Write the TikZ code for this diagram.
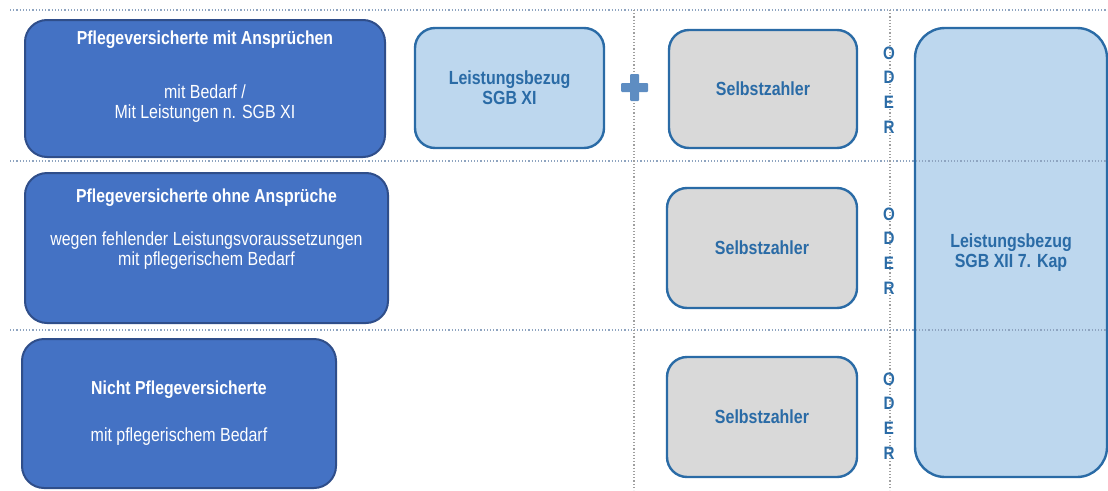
\documentclass[tikz,border=0pt]{standalone}
\usepackage{fontspec}
\setmainfont{Liberation Sans}[FakeStretch=0.84]
\usetikzlibrary{positioning}
\definecolor{dunkelblau}{HTML}{4472C4}
\definecolor{dunkelrand}{HTML}{2F4E8A}
\definecolor{hellblau}{HTML}{BDD7EE}
\definecolor{randblau}{HTML}{2A6BA6}
\definecolor{grau}{HTML}{D9D9D9}
\definecolor{linie}{HTML}{8EA4C0}
\definecolor{plusblau}{HTML}{5E8DC2}

\begin{document}
\begin{tikzpicture}[x=1pt,y=-1pt,
  gruppe/.style={draw=dunkelrand,line width=2pt,fill=dunkelblau,rounded corners=22pt,inner sep=0pt},
  bezug/.style={draw=randblau,line width=2.4pt,fill=hellblau,rounded corners=20pt,inner sep=0pt,
    text=randblau,font=\fontsize{19}{20}\selectfont\bfseries,align=center},
  zahler/.style={bezug,fill=grau},
  titel/.style={text=white,font=\fontsize{18.8}{20}\selectfont\bfseries,inner sep=0pt},
  beschreibung/.style={text=white,font=\fontsize{19}{20}\selectfont,align=center,inner sep=0pt},
  oder/.style={text=randblau,font=\fontsize{18}{24.7}\selectfont\bfseries,align=center,inner sep=0pt},
  trenner/.style={draw=linie,line width=1.2pt,dotted}]
\useasboundingbox (0,0) rectangle (1108,490);

% grosser Kasten rechts (unter den Linien)
\node[bezug,rounded corners=30pt,minimum width=192,minimum height=449] (sgbxii) at (1011,252.5)
  {Leistungsbezug\\SGB XII 7. Kap};

% Trennlinien
\draw[trenner] (10,10) -- (1108,10);
\draw[trenner] (10,161) -- (1108,161);
\draw[trenner] (10,330) -- (1108,330);
\draw[trenner,draw=gray!75] (634,10) -- (634,490);
\draw[trenner,draw=gray!75] (890,10) -- (890,490);

% linke Spalte
\node[gruppe,minimum width=360,minimum height=137] (mit) at (205,88.5) {};
\node[titel] (mit titel) at (205,40) {Pflegeversicherte mit Ansprüchen};
\node[beschreibung] (mit text) at (205,104) {mit Bedarf /\\Mit Leistungen n. SGB XI};

\node[gruppe,minimum width=363,minimum height=150] (ohne) at (206.5,248) {};
\node[titel] (ohne titel) at (206.5,198) {Pflegeversicherte ohne Ansprüche};
\node[beschreibung] (ohne text) at (206.5,251) {wegen fehlender Leistungsvoraussetzungen\\mit pflegerischem Bedarf};

\node[gruppe,minimum width=314,minimum height=149] (nicht) at (179,413.5) {};
\node[titel] (nicht titel) at (179,390) {Nicht Pflegeversicherte};
\node[beschreibung] (nicht text) at (179,437) {mit pflegerischem Bedarf};

% Leistungen
\node[bezug,minimum width=189,minimum height=120] (sgbxi) at (509.5,88) {Leistungsbezug\\SGB XI};
\fill[plusblau,rounded corners=1pt] (630,74) rectangle (639,101);
\fill[plusblau,rounded corners=1pt] (621,83) rectangle (648,92);

\node[zahler,minimum width=188,minimum height=118] (selbst1) at (763,89) {Selbstzahler};
\node[zahler,minimum width=190,minimum height=120] (selbst2) at (762,248) {Selbstzahler};
\node[zahler,minimum width=190,minimum height=120] (selbst3) at (762,417) {Selbstzahler};

% ODER
\node[oder] (oder1) at (889,90) {O\\D\\E\\R};
\node[oder] (oder2) at (889,251) {O\\D\\E\\R};
\node[oder] (oder3) at (889,416) {O\\D\\E\\R};

\end{tikzpicture}
\end{document}
